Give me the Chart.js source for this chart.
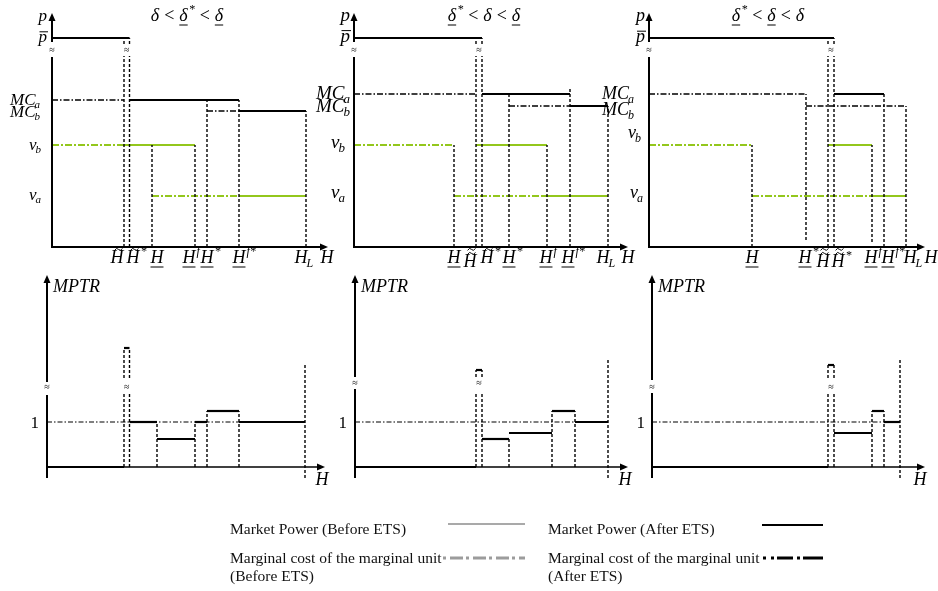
<!DOCTYPE html>
<html>
<head>
<meta charset="utf-8">
<title>Market power diagrams</title>
<script src="https://cdn.jsdelivr.net/npm/chart.js@4.4.1/dist/chart.umd.min.js"></script>
<style>
  html, body { margin: 0; padding: 0; background: #fff; }
  #stage { position: relative; width: 938px; height: 591px; overflow: hidden; font-family: "Liberation Serif", "Times New Roman", serif; }
  #stage canvas { position: absolute; left: 0; top: 0; }
  .lg { position: absolute; font-size: 15.5px; line-height: 18px; color: #111; white-space: nowrap; }
  #keys { position: absolute; left: 0; top: 0; }
</style>
</head>
<body>
<div id="stage">
  <canvas id="c0" width="938" height="591"></canvas>
  <canvas id="c1" width="938" height="591"></canvas>
  <canvas id="c2" width="938" height="591"></canvas>
  <canvas id="c3" width="938" height="591"></canvas>
  <canvas id="c4" width="938" height="591"></canvas>
  <canvas id="c5" width="938" height="591"></canvas>
  <div class="lg" style="left:230px;top:520px">Market Power (Before ETS)</div>
  <div class="lg" style="left:548px;top:520px">Market Power (After ETS)</div>
  <div class="lg" style="left:230px;top:549px">Marginal cost of the marginal unit<br>(Before ETS)</div>
  <div class="lg" style="left:548px;top:549px">Marginal cost of the marginal unit<br>(After ETS)</div>
  <svg id="keys" width="938" height="591">
    <line x1="448" y1="524" x2="525" y2="524" stroke="#8c8c8c" stroke-width="1.5"/>
    <line x1="443" y1="558" x2="525" y2="558" stroke="#9c9c9c" stroke-width="3" stroke-dasharray="3 4 13 3"/>
    <line x1="762" y1="525" x2="823" y2="525" stroke="#000" stroke-width="2"/>
    <line x1="763" y1="558" x2="823" y2="558" stroke="#000" stroke-width="3" stroke-dasharray="3 5 3 3 16 4 3 3 20"/>
  </svg>
</div>
<script>
const GREEN = '#93c71c';

// case headings
const caseTitles = [
  ['δ', '<', '_δ^*', '<', '_δ'],
  ['_δ^*', '<', 'δ', '<', '_δ'],
  ['_δ^*', '<', '_δ', '<', 'δ']
];

// ---- upper row: price against H ----
// price axis labels: p-bar, MC_a, MC_b, v_b, v_a  (baseline, in price units)
const priceLabels = ['-p', 'MC,a', 'MC,b', 'v,b', 'v,a'];
const priceLabelY1 = [205, 142, 130, 97, 47];
const priceLabelY2 = [205, 148, 135, 99, 49];
const priceLabelY3 = [205, 148, 132, 109, 49];

// H axis tick labels and where they sit
const hLabels1 = ['~H', '~H^*', '_H', '_H^f', '_H^*', '_H^f*', 'H,L', 'H'];
const hLabelX1 = [65, 81, 105, 137, 155, 187, 249, 275];
const hLabels2 = ['_H', '~~H', '~H^*', '_H^*', '_H^f', '_H^f*', 'H,L', 'H'];
const hLabelX2 = [100, 116, 133, 155, 192, 214, 249, 274];
const hLabels3 = ['_H', '_H^*', '~~H', '~~H^*', '_H^f', '_H^f*', 'H,L', 'H'];
const hLabelX3 = [103, 156, 174, 189, 222, 239, 261, 282];

// horizontal pieces [H from, H to, price]; guides [H, price from, price to]
const mpAfter1 = [[0, 77.5, 209], [77.5, 187, 147], [187, 254, 136]];
const mcAfter1 = [[0, 72, 147], [155, 187, 136]];
const mpBefore1 = [[72, 143, 102], [187, 254, 51]];
const mcBefore1 = [[0, 72, 102], [100, 187, 51]];
const guides1 = [[72, 0, 191], [72, 203, 209], [77.5, 0, 191], [77.5, 203, 209], [100, 0, 102],
                 [143, 0, 102], [155, 0, 147], [187, 0, 147], [254, 0, 136]];

const mpAfter2 = [[0, 128, 209], [128, 216, 153], [216, 254, 141]];
const mcAfter2 = [[0, 122, 153], [155, 216, 141]];
const mpBefore2 = [[122, 193, 102], [189, 254, 51]];
const mcBefore2 = [[0, 100, 102], [100, 189, 51]];
const guides2 = [[100, 0, 102], [122, 0, 191], [122, 203, 209], [128, 0, 191], [128, 203, 209],
                 [155, 0, 153], [193, 0, 102], [216, 0, 159], [254, 0, 141]];

const mpAfter3 = [[0, 185, 209], [185, 235, 153]];
const mcAfter3 = [[0, 157, 153], [157, 257, 141]];
const mpBefore3 = [[179, 223, 102], [223, 257, 51]];
const mcBefore3 = [[0, 103, 102], [103, 223, 51]];
const guides3 = [[103, 0, 102], [157, 7, 153], [179, 0, 191], [179, 203, 209], [185, 0, 191],
                 [185, 203, 209], [223, 5, 102], [235, 0, 153], [257, 0, 141]];

// ---- lower row: MPTR against H ----
const mptr1 = [[0, 77, 0], [77, 82.5, 119], [82.5, 110, 45], [110, 148, 28], [148, 160, 45], [160, 192, 56], [192, 258, 45]];
const unitLine1 = [[0, 258, 45]];
const mptrGuides1 = [[77, 0, 74], [77, 89, 119], [82.5, 0, 74], [82.5, 89, 119], [110, 0, 45],
                     [148, 0, 45], [160, 0, 56], [192, 0, 56], [258, -11, 102]];

const mptr2 = [[0, 121, 0], [121, 127, 97], [127, 154, 28], [154, 197, 34], [197, 220, 56], [220, 253, 45]];
const unitLine2 = [[0, 253, 45]];
const mptrGuides2 = [[121, 0, 75], [121, 90, 97], [127, 0, 75], [127, 90, 97], [154, 0, 28],
                     [197, 0, 56], [220, 0, 56], [253, -11, 108]];

const mptr3 = [[0, 176, 0], [176, 182, 102], [182, 220, 34], [220, 232, 56], [232, 248, 45]];
const unitLine3 = [[0, 248, 45]];
const mptrGuides3 = [[176, 0, 74], [176, 89, 102], [182, 0, 74], [182, 89, 102], [220, 0, 56],
                     [232, 0, 56], [248, -11, 108]];

const STYLE = {
  mpAfter:  { color: '#000', width: 1.8, dash: [] },
  mcAfter:  { color: '#000', width: 1.5, dash: [6, 2, 1.5, 2] },
  mpBefore: { color: GREEN, width: 2, dash: [] },
  mcBefore: { color: GREEN, width: 2, dash: [7, 2, 2, 2] },
  guide:    { color: '#000', width: 1.4, dash: [3, 2] },
  mptr:     { color: '#000', width: 2.2, dash: [] },
  unit:     { color: '#000', width: 1.2, dash: [5, 2, 1.5, 2] }
};

// ---- text helpers ----
function parseMath(s) {
  const m = { tildes: 0, under: false, over: false, base: '', sup: '', sub: '' };
  while (s[0] === '~') { m.tildes++; s = s.slice(1); }
  if (s[0] === '_') { m.under = true; s = s.slice(1); }
  if (s[0] === '-') { m.over = true; s = s.slice(1); }
  let i = s.indexOf('^');
  if (i >= 0) { m.sup = s.slice(i + 1); s = s.slice(0, i); }
  i = s.indexOf(',');
  if (i >= 0) { m.sub = s.slice(i + 1); s = s.slice(0, i); }
  m.base = s;
  return m;
}

function stroke(ctx, x1, y1, x2, y2) {
  ctx.beginPath(); ctx.moveTo(x1, y1); ctx.lineTo(x2, y2); ctx.stroke();
}

function tilde(ctx, cx, ty, w) {
  ctx.beginPath();
  ctx.moveTo(cx - w / 2, ty + 1);
  ctx.quadraticCurveTo(cx - w / 4, ty - 2.5, cx, ty);
  ctx.quadraticCurveTo(cx + w / 4, ty + 2.5, cx + w / 2, ty - 1);
  ctx.stroke();
}

// draws base with sub/superscript; align: 'left' | 'right' | 'center' (center of the base glyph)
function drawMath(ctx, s, x, y, align, size, dry) {
  const m = parseMath(s);
  const f = `italic ${size}px "Liberation Serif", serif`;
  const fs = `italic ${Math.round(size * 0.66)}px "Liberation Serif", serif`;
  ctx.font = f;
  const bw = ctx.measureText(m.base).width;
  ctx.font = fs;
  const sw = Math.max(ctx.measureText(m.sup).width, ctx.measureText(m.sub).width);
  const total = bw + (sw ? sw + 1 : 0);
  if (dry) return total;
  const x0 = align === 'right' ? x - total : align === 'left' ? x : x - bw / 2;
  ctx.textAlign = 'left'; ctx.textBaseline = 'alphabetic';
  ctx.font = f; ctx.fillText(m.base, x0, y);
  ctx.font = fs;
  if (m.sup) ctx.fillText(m.sup, x0 + bw + 1, y - size * 0.42);
  if (m.sub) ctx.fillText(m.sub, x0 + bw - 1, y + size * 0.2);
  ctx.lineWidth = 1; ctx.setLineDash([]);
  if (m.under) stroke(ctx, x0, y + 4, x0 + bw, y + 4);
  if (m.over) stroke(ctx, x0 + 1, y - size * 0.6, x0 + bw + 1, y - size * 0.6);
  for (let k = 0; k < m.tildes; k++) tilde(ctx, x0 + bw / 2 + 1.5, y - size * 0.7 - 1 - k * 4, bw * 0.6);
  return total;
}

function drawTitle(ctx, tokens, cx, y) {
  const size = 18, gap = 5;
  const widths = tokens.map(t => {
    if (t === '<') { ctx.font = `${size}px "Liberation Serif", serif`; return ctx.measureText('<').width; }
    return drawMath(ctx, t, 0, 0, 'left', size, true);
  });
  let x = cx - (widths.reduce((a, b) => a + b, 0) + gap * (tokens.length - 1)) / 2;
  tokens.forEach((t, i) => {
    if (t === '<') {
      ctx.font = `${size}px "Liberation Serif", serif`;
      ctx.textAlign = 'left'; ctx.textBaseline = 'alphabetic';
      ctx.fillText('<', x, y);
    } else {
      drawMath(ctx, t, x, y, 'left', size);
    }
    x += widths[i] + gap;
  });
}

function arrowHead(ctx, x, y, dir) {
  ctx.beginPath();
  if (dir === 'right') { ctx.moveTo(x, y); ctx.lineTo(x - 8, y - 3.5); ctx.lineTo(x - 8, y + 3.5); }
  else { ctx.moveTo(x, y); ctx.lineTo(x - 3.5, y + 8); ctx.lineTo(x + 3.5, y + 8); }
  ctx.closePath(); ctx.fill();
}

function makeDiagram(spec) {
  return {
    id: 'diagram',
    afterDatasetsDraw(chart) {
      const ctx = chart.ctx, X = chart.scales.x, Y = chart.scales.y;
      const px = v => X.getPixelForValue(v), py = v => Y.getPixelForValue(v);
      ctx.save();
      ctx.strokeStyle = '#000'; ctx.fillStyle = '#000'; ctx.setLineDash([]); ctx.lineCap = 'butt';
      ctx.lineWidth = spec.xAxisWidth;
      stroke(ctx, px(0) - 1, py(0), px(spec.xMax) - 6, py(0));
      arrowHead(ctx, px(spec.xMax), py(0), 'right');
      ctx.lineWidth = 2;
      stroke(ctx, px(0), py(spec.yFrom), px(0), py(spec.gap[0]));
      stroke(ctx, px(0), py(spec.gap[1]), px(0), py(spec.yMax) + 6);
      arrowHead(ctx, px(0), py(spec.yMax), 'up');
      ctx.font = '10px "Liberation Serif", serif';
      ctx.textAlign = 'center'; ctx.textBaseline = 'middle';
      spec.breakX.forEach(b => ctx.fillText('≈', px(b), py(spec.breakY)));
      spec.draw(ctx, px, py);
      ctx.restore();
    }
  };
}

function lineSets(segs, style, vertical) {
  return segs.map(s => ({
    data: vertical ? [{ x: s[0], y: s[1] }, { x: s[0], y: s[2] }] : [{ x: s[0], y: s[2] }, { x: s[1], y: s[2] }],
    showLine: true, borderColor: style.color, borderWidth: style.width, borderDash: style.dash,
    borderCapStyle: 'butt', pointRadius: 0, pointHoverRadius: 0, fill: false, clip: false, tension: 0
  }));
}

function buildPanel(id, left, bottom, xMax, yMax, datasets, spec) {
  spec.xMax = xMax; spec.yMax = yMax;
  return new Chart(document.getElementById(id), {
    type: 'scatter',
    data: { datasets },
    options: {
      responsive: false, animation: false, devicePixelRatio: 1,
      layout: { autoPadding: false, padding: { left, right: 938 - left - xMax, top: bottom - yMax, bottom: 591 - bottom } },
      scales: {
        x: { type: 'linear', min: 0, max: xMax, display: false },
        y: { type: 'linear', min: 0, max: yMax, display: false }
      },
      plugins: { legend: { display: false }, tooltip: { enabled: false } },
      events: []
    },
    plugins: [makeDiagram(spec)]
  });
}

// upper panels
const upper = [
  { id: 'c0', left: 52, xMax: 276, title: caseTitles[0], titleX: 187, labelY: priceLabelY1, gapX: [5, 10, 10, 9, 9],
    labelSize: 17, hLabels: hLabels1, hLabelX: hLabelX1, breakX: [0, 74.75],
    sets: [mpAfter1, mcAfter1, mpBefore1, mcBefore1, guides1] },
  { id: 'c1', left: 354, xMax: 274, title: caseTitles[1], titleX: 484, labelY: priceLabelY2, gapX: [4, 2, 2, 7, 7],
    labelSize: 19, hLabels: hLabels2, hLabelX: hLabelX2, breakX: [0, 125],
    sets: [mpAfter2, mcAfter2, mpBefore2, mcBefore2, guides2] },
  { id: 'c2', left: 649, xMax: 276, title: caseTitles[2], titleX: 768, labelY: priceLabelY3, gapX: [4, 13, 13, 6, 4],
    labelSize: 18, hLabels: hLabels3, hLabelX: hLabelX3, breakX: [0, 182],
    sets: [mpAfter3, mcAfter3, mpBefore3, mcBefore3, guides3] }
];

upper.forEach(p => {
  const [mpA, mcA, mpB, mcB, g] = p.sets;
  const datasets = [
    ...lineSets(g, STYLE.guide, true),
    ...lineSets(mcB, STYLE.mcBefore), ...lineSets(mpB, STYLE.mpBefore),
    ...lineSets(mcA, STYLE.mcAfter), ...lineSets(mpA, STYLE.mpAfter)
  ];
  buildPanel(p.id, p.left, 247, p.xMax, 234, datasets, {
    xAxisWidth: 2, yFrom: 0, gap: [190, 205], breakY: 197, breakX: p.breakX,
    draw(ctx, px, py) {
      drawTitle(ctx, p.title, p.titleX, 21);
      priceLabels.forEach((s, i) => drawMath(ctx, s, px(0) - p.gapX[i], py(p.labelY[i]), 'right', p.labelSize));
      drawMath(ctx, 'p', px(0) - p.gapX[0], py(226), 'right', p.labelSize);
      p.hLabels.forEach((s, i) => {
        const shift = s.startsWith('~~') ? 4 : 0;
        drawMath(ctx, s, px(p.hLabelX[i]), py(-16) + shift, 'center', 18);
      });
    }
  });
});

// lower panels
const lower = [
  { id: 'c3', left: 47, xMax: 278, gap: [72, 85], breakY: 80, breakX: [0, 79.75], hX: 275, oneGap: 8,
    sets: [mptr1, unitLine1, mptrGuides1] },
  { id: 'c4', left: 355, xMax: 273, gap: [78, 90], breakY: 84, breakX: [0, 124], hX: 270, oneGap: 8,
    sets: [mptr2, unitLine2, mptrGuides2] },
  { id: 'c5', left: 652, xMax: 273, gap: [74, 87], breakY: 80, breakX: [0, 179], hX: 268, oneGap: 7,
    sets: [mptr3, unitLine3, mptrGuides3] }
];

lower.forEach(p => {
  const [m, u, g] = p.sets;
  const datasets = [...lineSets(g, STYLE.guide, true), ...lineSets(u, STYLE.unit), ...lineSets(m, STYLE.mptr)];
  buildPanel(p.id, p.left, 467, p.xMax, 192, datasets, {
    xAxisWidth: 1.5, yFrom: -11, gap: p.gap, breakY: p.breakY, breakX: p.breakX,
    draw(ctx, px, py) {
      drawMath(ctx, 'MPTR', px(0) + 6, py(175), 'left', 18);
      ctx.font = '17px "Liberation Serif", serif';
      ctx.textAlign = 'right'; ctx.textBaseline = 'alphabetic';
      ctx.fillText('1', px(0) - p.oneGap, py(39));
      drawMath(ctx, 'H', px(p.hX), py(-18), 'center', 18);
    }
  });
});
</script>
</body>
</html>
